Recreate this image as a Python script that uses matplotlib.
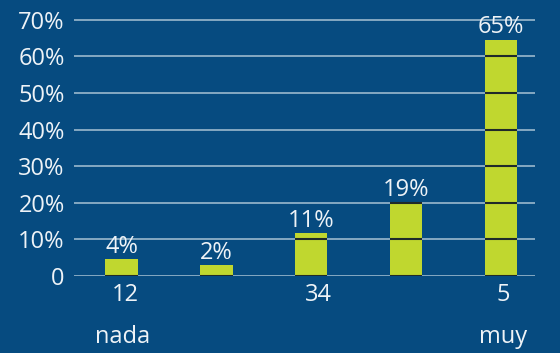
import matplotlib
matplotlib.use("Agg")
import matplotlib.pyplot as plt
import numpy as np

positions = [1, 2, 3, 4, 5]
values = [4.6, 3.0, 11.7, 20.0, 64.6]
value_labels = ["4%", "2%", "11%", "19%", "65%"]
yticks = [0, 10, 20, 30, 40, 50, 60, 70]
ytick_labels = ["0", "10%", "20%", "30%", "40%", "50%", "60%", "70%"]
xtick_pos = [1.04, 3.08, 5.02]
xtick_labels = ["12", "34", "5"]
ends = [(1.01, "nada"), (5.02, "muy")]

BG = "#064b80"
BAR = "#c0d72f"
GRID = "#8fb0c8"
TEXT = "#eef3f7"

plt.rcParams['font.family'] = ['Open Sans', 'DejaVu Sans']

fig = plt.figure(figsize=(5.6, 3.53), dpi=100, facecolor=BG)
ax = fig.add_axes([0.133, 0.218, 0.823, 0.729])
ax.set_facecolor(BG)

width = 0.34
for y in yticks:
    ax.axhline(y, color=GRID, lw=1.3, zorder=1)
ax.bar(positions, values, width=width, color=BAR, zorder=2)

# dark grid marks on top of the bars
for x, v in zip(positions, values):
    levels = [y for y in yticks if y <= v + 0.2]
    ax.hlines(levels, x - width / 2, x + width / 2, color="#1f2a2a", lw=1.5, zorder=3)

fs = 17
for x, v, lab in zip(positions, values, value_labels):
    ax.text(x, v + 0.1, lab, ha="center", va="bottom", color=TEXT,
            fontsize=fs, zorder=4)

ax.set_xlim(0.505, 5.36)
ax.set_ylim(0, 70.3)
ax.set_yticks(yticks)
ax.set_yticklabels(ytick_labels, fontsize=fs, color=TEXT)
ax.set_xticks(xtick_pos)
ax.set_xticklabels(xtick_labels, fontsize=fs, color=TEXT)
ax.tick_params(length=0, pad=7)
ax.tick_params(axis="x", pad=5)
for s in ax.spines.values():
    s.set_visible(False)

for x, lab in ends:
    ax.text(x, -16.6, lab, ha="center", va="center", color=TEXT, fontsize=fs)

fig.savefig("out.png", dpi=100, facecolor=BG)
